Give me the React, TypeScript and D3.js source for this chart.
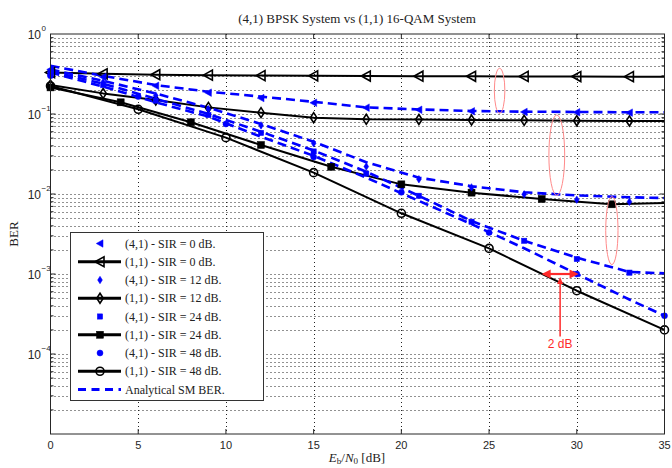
import React from 'react';
import * as d3 from 'd3';

// SNR grids (dB)
const snr3 = [0, 3, 6, 9, 12, 15, 18, 21, 24, 27, 30, 33];
const snr4 = [0, 4, 8, 12, 16, 20, 24, 28, 32];
const snr5 = [0, 5, 10, 15, 20, 25, 30, 35];
const snrLine3 = [0, 3, 6, 9, 12, 15, 18, 21, 24, 27, 30, 33, 35];
const snrLine4 = [0, 4, 8, 12, 16, 20, 24, 28, 32, 35];

// (1,1) 16-QAM, simulated (black)
const qamSir0 = [0.33, 0.318, 0.31, 0.306, 0.302, 0.3, 0.298, 0.297, 0.296, 0.295, 0.294, 0.293, 0.293];
const qamSir12 = [0.23, 0.181, 0.15, 0.121, 0.104, 0.09, 0.0858, 0.0853, 0.084, 0.0834, 0.0825, 0.082, 0.082];
const qamSir24 = [0.215, 0.14, 0.0788, 0.041, 0.0219, 0.0132, 0.0104, 0.00866, 0.00743, 0.0077];
const qamSir48 = [0.224, 0.1145, 0.0506, 0.0185, 0.00574, 0.00209, 0.000618, 0.0002];

// (4,1) BPSK SM, simulated (blue markers)
const smSir0 = [0.36, 0.29, 0.225, 0.185, 0.158, 0.138, 0.12, 0.113, 0.108, 0.106, 0.105, 0.104];
const smSir12 = [0.34, 0.25, 0.17, 0.115, 0.072, 0.043, 0.022, 0.0153, 0.0121, 0.0099, 0.0085, 0.008];
const smSir24 = [0.32, 0.23, 0.147, 0.097, 0.058, 0.034, 0.018, 0.0095, 0.0045, 0.0026, 0.00154, 0.00104];
const smSir48 = [0.3, 0.165, 0.075, 0.029, 0.0105, 0.0033, 0.001, 0.0003];

// Analytical SM BER (blue dashed)
const anSir0 = [0.4, 0.3, 0.23, 0.19, 0.165, 0.142, 0.121, 0.114, 0.109, 0.107, 0.106, 0.105, 0.105];
const anSir12 = [0.36, 0.26, 0.18, 0.12, 0.075, 0.045, 0.025, 0.016, 0.0125, 0.0105, 0.0096, 0.0091, 0.0089];
const anSir24 = [0.34, 0.24, 0.155, 0.1, 0.06, 0.035, 0.019, 0.0095, 0.0046, 0.0026, 0.0016, 0.00106, 0.00102];
const anSir48 = [0.33, 0.22, 0.14, 0.093, 0.052, 0.03, 0.016, 0.0082, 0.0042, 0.0021, 0.001, 0.00048, 0.0003];

const legendLabels = [
  '(4,1) - SIR = 0 dB.', '(1,1) - SIR = 0 dB.',
  '(4,1) - SIR = 12 dB.', '(1,1) - SIR = 12 dB.',
  '(4,1) - SIR = 24 dB.', '(1,1) - SIR = 24 dB.',
  '(4,1) - SIR = 48 dB.', '(1,1) - SIR = 48 dB.',
  'Analytical SM BER.',
];

const xTicks = [0, 5, 10, 15, 20, 25, 30, 35];
const yExps = [0, -1, -2, -3, -4];

// red annotations: ellipses (center dB, top BER, bottom BER, half-width dB)
const ellCx = [25.6, 28.86, 32.0];
const ellTop = [0.373, 0.0973, 0.00928];
const ellBot = [0.102, 0.00963, 0.00131];
const ellRx = [0.3, 0.45, 0.35];
const gapFrom = 28, gapTo = 30.1, gapBer = 1e-3;

const BLUE = '#0000ff';
const RED = '#ff2a2a';
const AX = '#262626';
const serif = '"Liberation Serif", "Times New Roman", serif';
const sans = '"Liberation Sans", Arial, sans-serif';

function Marker({ kind, cx, cy, color, filled, s = 1 }: any) {
  const fill = filled ? color : 'none';
  const sw = filled ? 0.5 : 1.6;
  if (kind === 'tri') {
    const p = [[cx - 5 * s, cy], [cx + 4 * s, cy - 5 * s], [cx + 4 * s, cy + 5 * s]];
    return <polygon points={p.map(d => d.join(',')).join(' ')} fill={fill} stroke={color} strokeWidth={sw} />;
  }
  if (kind === 'dia') {
    const p = [[cx, cy - 5 * s], [cx + 3.2 * s, cy], [cx, cy + 5 * s], [cx - 3.2 * s, cy]];
    return <polygon points={p.map(d => d.join(',')).join(' ')} fill={fill} stroke={color} strokeWidth={sw} />;
  }
  if (kind === 'sq') {
    return <rect x={cx - 3.5 * s} y={cy - 3.5 * s} width={7 * s} height={7 * s} fill={color} stroke={color} strokeWidth={sw} />;
  }
  return <circle cx={cx} cy={cy} r={4 * s} fill={fill} stroke={color} strokeWidth={sw} />;
}

export default function App() {
  const x = d3.scaleLinear().domain([0, 35]).range([50.5, 664.5]);
  const y = d3.scaleLog().domain([1e-5, 1]).range([434, 34]);
  const [x0, x1] = x.range();
  const [y0, y1] = [y(1), y(1e-5)];
  const line = d3.line<[number, number]>().x(d => x(d[0])).y(d => y(d[1]));

  const black = [
    { xs: snrLine3, ys: qamSir0, n: snr3.length, kind: 'tri' },
    { xs: snrLine3, ys: qamSir12, n: snr3.length, kind: 'dia' },
    { xs: snrLine4, ys: qamSir24, n: snr4.length, kind: 'sq' },
    { xs: snr5, ys: qamSir48, n: snr5.length, kind: 'circ' },
  ];
  const blue = [
    { xs: snr3, ys: smSir0, kind: 'tri' },
    { xs: snr3, ys: smSir12, kind: 'dia' },
    { xs: snr3, ys: smSir24, kind: 'sq' },
    { xs: snr5, ys: smSir48, kind: 'circ' },
  ];
  const analytical = [anSir0, anSir12, anSir24, anSir48];

  const minor: number[] = [];
  for (let e = -5; e < 0; e++) for (let m = 2; m <= 9; m++) minor.push(m * Math.pow(10, e));
  const major = [1e-4, 1e-3, 1e-2, 1e-1];

  const legendKinds = ['tri', 'tri', 'dia', 'dia', 'sq', 'sq', 'circ', 'circ', 'dash'];
  const lgX = 70.5, lgY = 232.5, lgW = 193, lgH = 168, lgStep = 18.25;

  const gy = y(gapBer);
  const vx = x((gapFrom + gapTo) / 2);

  return (
    <svg width={672} height={468} style={{ position: 'fixed', left: 0, top: 0, background: '#fff' }}>
      <rect width={672} height={468} fill="#fff" />
      <text x={357} y={23} textAnchor="middle" fontFamily={serif} fontSize={13} fill="#222">
        (4,1) BPSK System vs (1,1) 16-QAM System
      </text>

      {/* grid */}
      <g stroke="#222" strokeWidth={1} strokeDasharray="1,3">
        {minor.concat(major).map((v, i) => (
          <line key={'h' + i} x1={x0} x2={x1} y1={Math.round(y(v)) + 0.5} y2={Math.round(y(v)) + 0.5} />
        ))}
        {xTicks.slice(1, -1).map(t => (
          <line key={'v' + t} x1={Math.round(x(t)) + 0.5} x2={Math.round(x(t)) + 0.5} y1={y0} y2={y1} />
        ))}
      </g>

      {/* ticks */}
      <g stroke={AX} strokeWidth={1}>
        {minor.map((v, i) => (
          <g key={'mt' + i}>
            <line x1={x0} x2={x0 + 3} y1={y(v)} y2={y(v)} />
            <line x1={x1} x2={x1 - 3} y1={y(v)} y2={y(v)} />
          </g>
        ))}
        {major.map((v, i) => (
          <g key={'Mt' + i}>
            <line x1={x0} x2={x0 + 5} y1={y(v)} y2={y(v)} />
            <line x1={x1} x2={x1 - 5} y1={y(v)} y2={y(v)} />
          </g>
        ))}
        {xTicks.map(t => (
          <g key={'xt' + t}>
            <line x1={x(t)} x2={x(t)} y1={y1} y2={y1 - 5} />
            <line x1={x(t)} x2={x(t)} y1={y0} y2={y0 + 5} />
          </g>
        ))}
      </g>

      {/* black simulated lines */}
      {black.map((s, i) => (
        <path key={'bl' + i} d={line(s.xs.map((v, j) => [v, s.ys[j]]) as any) || ''}
          fill="none" stroke="#000" strokeWidth={2} strokeLinejoin="round" />
      ))}

      {/* analytical dashed */}
      {analytical.map((a, i) => (
        <path key={'an' + i} d={line(snrLine3.map((v, j) => [v, a[j]]) as any) || ''}
          fill="none" stroke={BLUE} strokeWidth={2.6} strokeDasharray="9,5" />
      ))}

      {/* black markers */}
      {black.map((s, i) => s.xs.slice(0, s.n).map((v, j) => (
        <Marker key={'bm' + i + '-' + j} kind={s.kind} cx={x(v)} cy={y(s.ys[j])} color="#000" filled={s.kind === 'sq'} />
      )))}

      {/* blue markers */}
      {blue.map((s, i) => s.xs.map((v, j) => (
        <Marker key={'um' + i + '-' + j} kind={s.kind} cx={x(v)} cy={y(s.ys[j])} color={BLUE} filled s={0.75} />
      )))}

      {/* red annotations */}
      <g fill="none" stroke="#ff8a8a" strokeWidth={1}>
        {ellCx.map((c, i) => (
          <ellipse key={'el' + i} cx={x(c)} cy={(y(ellTop[i]) + y(ellBot[i])) / 2}
            rx={x(c + ellRx[i]) - x(c)} ry={(y(ellBot[i]) - y(ellTop[i])) / 2} />
        ))}
      </g>
      <g>
        <line x1={x(gapFrom) + 7} x2={x(gapTo) - 7} y1={gy} y2={gy} stroke={RED} strokeWidth={2.2} />
        <polygon points={`${x(gapFrom)},${gy} ${x(gapFrom) + 9},${gy - 4.5} ${x(gapFrom) + 9},${gy + 4.5}`} fill={RED} />
        <polygon points={`${x(gapTo)},${gy} ${x(gapTo) - 9},${gy - 4.5} ${x(gapTo) - 9},${gy + 4.5}`} fill={RED} />
        <line x1={vx} x2={vx} y1={gy + 9} y2={y(1.65e-4)} stroke={RED} strokeWidth={1.5} />
        <polygon points={`${vx},${gy + 3} ${vx - 3},${gy + 10} ${vx + 3},${gy + 10}`} fill={RED} />
        <text x={vx} y={y(1.65e-4) + 11} textAnchor="middle" fontFamily={sans} fontSize={12} fill={RED}>2 dB</text>
      </g>

      {/* axes box */}
      <rect x={x0} y={y0} width={x1 - x0} height={y1 - y0} fill="none" stroke={AX} strokeWidth={1} />

      {/* tick labels */}
      <g fontFamily={sans} fill={AX}>
        {xTicks.map(t => (
          <text key={'xl' + t} x={x(t)} y={449} textAnchor="middle" fontSize={11}>{t}</text>
        ))}
        {yExps.map(e => (
          <g key={'yl' + e}>
            <text x={41} y={y(Math.pow(10, e)) + 4.5} textAnchor="end" fontSize={12}>10</text>
            <text x={41.5} y={y(Math.pow(10, e)) - 3} fontSize={8}>{e === 0 ? '0' : '\u2212' + -e}</text>
          </g>
        ))}
      </g>

      {/* axis labels */}
      <text x={357} y={462} textAnchor="middle" fontFamily={serif} fontSize={13} fill="#222">
        <tspan fontStyle="italic">E</tspan>
        <tspan fontSize={9} dy={2}>b</tspan>
        <tspan dy={-2}>/</tspan>
        <tspan fontStyle="italic">N</tspan>
        <tspan fontSize={9} dy={2}>0</tspan>
        <tspan dy={-2}> [dB]</tspan>
      </text>
      <text transform="translate(18,234) rotate(-90)" textAnchor="middle" fontFamily={serif} fontSize={13} fill="#222">BER</text>

      {/* legend */}
      <g>
        <rect x={lgX} y={lgY} width={lgW} height={lgH} fill="#fff" stroke="#333" strokeWidth={1} />
        {legendLabels.map((lab, i) => {
          const cy = lgY + 11 + i * lgStep;
          const k = legendKinds[i];
          const isBlack = i % 2 === 1 && i < 8;
          return (
            <g key={'lg' + i}>
              {isBlack && <line x1={78} x2={121} y1={cy} y2={cy} stroke="#000" strokeWidth={3} />}
              {k === 'dash' && <line x1={78} x2={121} y1={cy} y2={cy} stroke={BLUE} strokeWidth={3} strokeDasharray="8,5.5" />}
              {k !== 'dash' && (isBlack
                ? <Marker kind={k} cx={100} cy={cy} color="#000" filled={k === 'sq'} />
                : <Marker kind={k} cx={100} cy={cy} color={BLUE} filled s={0.75} />)}
              <text x={125} y={cy + 4} fontFamily={serif} fontSize={12} fill="#222">{lab}</text>
            </g>
          );
        })}
      </g>
    </svg>
  );
}
